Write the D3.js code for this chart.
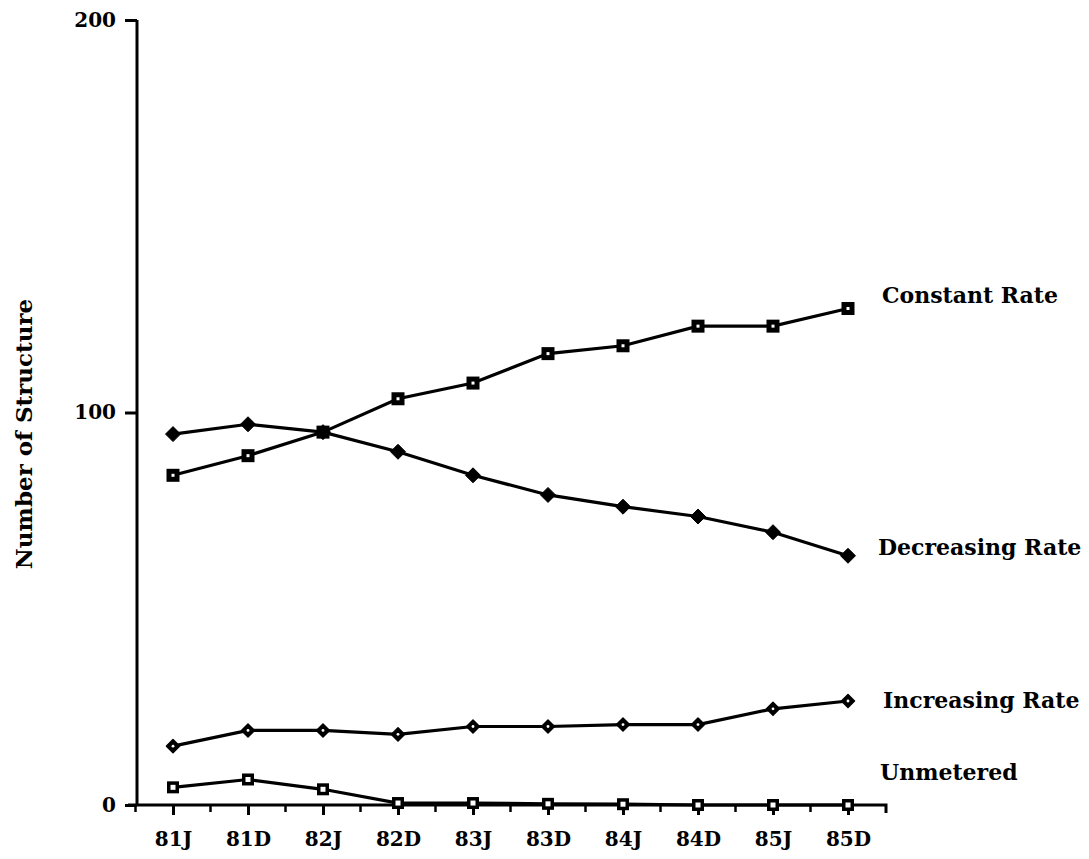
<!DOCTYPE html>
<html>
<head>
	<meta http-equiv="Content-Type" content="text/html;charset=UTF-8">
	<title>Number of Structure</title>
	<style>
		body { margin: 0; background: #fff; }
		text { font-family: "DejaVu Serif", "Liberation Serif", serif; font-weight: bold; fill: #000; }
	</style>
</head>
<body>
<div class="chart"></div>

<script src="https://d3js.org/d3.v7.min.js"></script>
<script>

	var periods = ["81J", "81D", "82J", "82D", "83J", "83D", "84J", "84D", "85J", "85D"];
	var yTicks = [0, 100, 200];

	var constantRate   = [84, 89, 95, 103.5, 107.5, 115, 117, 122, 122, 126.5];
	var decreasingRate = [94.5, 97, 95, 90, 84, 79, 76, 73.5, 69.5, 63.5];
	var increasingRate = [15, 19, 19, 18, 20, 20, 20.5, 20.5, 24.5, 26.5];
	var unmetered      = [4.5, 6.5, 4, 0.5, 0.5, 0.3, 0.2, 0, 0, 0];

	var seriesNames = ["Constant Rate", "Decreasing Rate", "Increasing Rate", "Unmetered"];

	var w = 1089;
	var h = 859;

	var SVG = d3.select("div.chart").append("svg")
				.attr("width", w)
				.attr("height", h);

	var xSCALE = d3.scalePoint()
					.domain(periods)
					.range([173, 848]);

	var ySCALE = d3.scaleLinear()
					.domain([0, 200])
					.range([805, 20]);

	var axisX0 = 137;   // y axis position
	var step = xSCALE.step();

	/* Y axis */
	var yAxis = d3.axisLeft(ySCALE)
				  .tickValues(yTicks)
				  .tickSize(12)
				  .tickPadding(9)
				  .tickFormat(d3.format("d"));

	var gy = SVG.append("g")
		.attr("transform", "translate(" + axisX0 + ",0)")
		.call(yAxis);
	gy.select(".domain").attr("stroke", "#000").attr("stroke-width", 3).attr("d", "M0," + ySCALE(200) + "V" + ySCALE(0));
	gy.selectAll(".tick line").attr("stroke", "#000").attr("stroke-width", 3);
	gy.selectAll(".tick text")
		.style("font-family", '"DejaVu Serif", serif')
		.style("font-weight", "bold")
		.style("font-size", "20px")
		.attr("fill", "#000");

	/* X axis */
	var xAxis = d3.axisBottom(xSCALE)
				  .tickSize(10)
				  .tickPadding(17);

	var gx = SVG.append("g")
		.attr("transform", "translate(0," + ySCALE(0) + ")")
		.call(xAxis);
	gx.select(".domain").attr("stroke", "#000").attr("stroke-width", 3)
		.attr("d", "M128,0H" + (xSCALE("85D") + step / 2 + 0.5) + "v8");
	gx.selectAll(".tick line").attr("stroke", "#000").attr("stroke-width", 3);
	gx.selectAll(".tick text")
		.style("font-family", '"DejaVu Serif", serif')
		.style("font-weight", "bold")
		.style("font-size", "20px")
		.attr("fill", "#000");

	/* minor ticks between periods */
	gx.selectAll("line.minor")
		.data(periods)
		.enter()
		.append("line")
		.attr("class", "minor")
		.attr("x1", function(d){ return xSCALE(d) - step / 2; })
		.attr("x2", function(d){ return xSCALE(d) - step / 2; })
		.attr("y1", 0)
		.attr("y2", 7)
		.attr("stroke", "#000")
		.attr("stroke-width", 2.5);

	/* y axis label */
	SVG.append("text")
		.attr("transform", "translate(24,434) rotate(-90)")
		.attr("text-anchor", "middle")
		.attr("dy", "0.35em")
		.attr("font-size", "23px")
		.text("Number of Structure");

	/* Lines */
	var allSeries = [constantRate, decreasingRate, increasingRate, unmetered];

	var line = d3.line()
				.x(function(d, i){ return xSCALE(periods[i]); })
				.y(function(d){ return ySCALE(d); });

	SVG.selectAll("path.series")
		.data(allSeries)
		.enter()
		.append("path")
		.attr("class", "series")
		.attr("d", line)
		.attr("fill", "none")
		.attr("stroke", "#000")
		.attr("stroke-width", 3.2);

	/* Markers */
	function pts(values){
		return values.map(function(v, i){ return { x: xSCALE(periods[i]), y: ySCALE(v) }; });
	}

	// constant rate: filled square with small white dot
	var gC = SVG.append("g");
	gC.selectAll("rect.big").data(pts(constantRate)).enter().append("rect")
		.attr("x", function(d){ return d.x - 6.5; })
		.attr("y", function(d){ return d.y - 6.5; })
		.attr("width", 13).attr("height", 13).attr("fill", "#000");
	gC.selectAll("rect.dot").data(pts(constantRate)).enter().append("rect")
		.attr("x", function(d){ return d.x - 1.5; })
		.attr("y", function(d){ return d.y - 1.5; })
		.attr("width", 3).attr("height", 3).attr("fill", "#fff");

	// decreasing rate: filled diamond
	SVG.append("g").selectAll("path").data(pts(decreasingRate)).enter().append("path")
		.attr("d", function(d){ return "M" + d.x + "," + (d.y - 7.5) + "l7.5,7.5l-7.5,7.5l-7.5,-7.5z"; })
		.attr("fill", "#000")
		.attr("stroke", "#000")
		.attr("stroke-linejoin", "round")
		.attr("stroke-width", 1);

	// increasing rate: rounded diamond with white centre
	var gI = SVG.append("g");
	gI.selectAll("path").data(pts(increasingRate)).enter().append("path")
		.attr("d", function(d){ return "M" + d.x + "," + (d.y - 6.5) + "l6.5,6.5l-6.5,6.5l-6.5,-6.5z"; })
		.attr("fill", "#000")
		.attr("stroke", "#000")
		.attr("stroke-linejoin", "round")
		.attr("stroke-width", 1.5);
	gI.selectAll("circle").data(pts(increasingRate)).enter().append("circle")
		.attr("cx", function(d){ return d.x; })
		.attr("cy", function(d){ return d.y; })
		.attr("r", 1.4).attr("fill", "#fff");

	// unmetered: square with white inner square
	var gU = SVG.append("g");
	gU.selectAll("rect.big").data(pts(unmetered)).enter().append("rect")
		.attr("x", function(d){ return d.x - 6; })
		.attr("y", function(d){ return d.y - 6; })
		.attr("width", 12).attr("height", 12).attr("fill", "#000");
	gU.selectAll("rect.dot").data(pts(unmetered)).enter().append("rect")
		.attr("x", function(d){ return d.x - 2.5; })
		.attr("y", function(d){ return d.y - 2.5; })
		.attr("width", 5).attr("height", 5).attr("fill", "#fff");

	/* series labels */
	var labelPos = [[882, 295], [878, 547], [883, 700], [880, 772]];
	SVG.selectAll("text.lbl")
		.data(seriesNames)
		.enter()
		.append("text")
		.attr("class", "lbl")
		.attr("x", function(d, i){ return labelPos[i][0]; })
		.attr("y", function(d, i){ return labelPos[i][1]; })
		.attr("dy", "0.35em")
		.attr("font-size", "22px")
		.text(function(d){ return d; });

</script>
</body>
</html>
